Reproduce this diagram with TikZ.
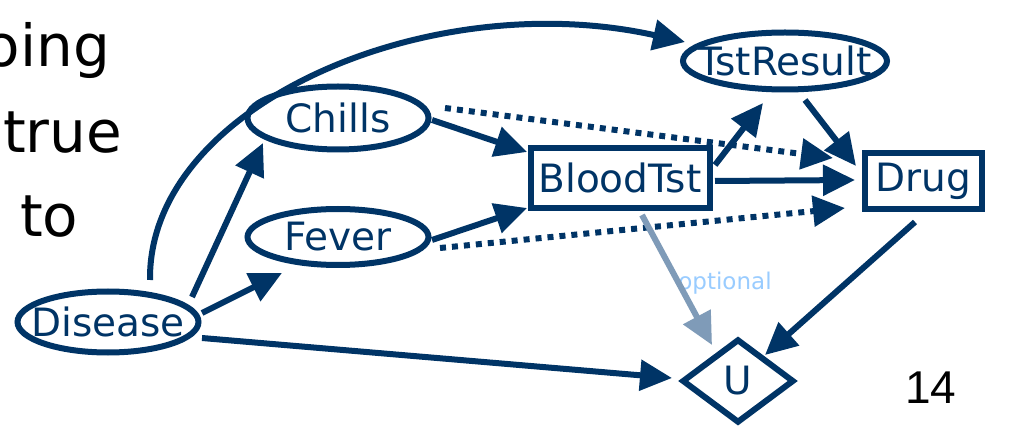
\documentclass[tikz,border=0pt]{standalone}
\usepackage{fontspec}
\setmainfont{DejaVu Sans}
\newfontfamily\numfont{Liberation Sans}
\usetikzlibrary{arrows.meta,shapes.geometric}
\definecolor{navy}{RGB}{0,52,102}
\definecolor{grayblue}{RGB}{127,155,184}
\definecolor{lightblue}{RGB}{153,204,255}
\begin{document}
\begin{tikzpicture}[x=1pt,y=-1pt,
  ell/.style={draw=navy,line width=6pt,ellipse,inner sep=0pt},
  box/.style={draw=navy,line width=6pt,rectangle,inner sep=0pt},
  dia/.style={draw=navy,line width=6pt,diamond,inner sep=0pt},
  lbl/.style={inner sep=0pt,text=navy,font=\fontsize{39}{39}\selectfont},
  arr/.style={draw=navy,line width=6pt,-{Triangle[length=32pt,width=30pt]}},
  dotarr/.style={arr,dash pattern=on 6pt off 6pt},
  grayarr/.style={draw=grayblue,line width=6pt,-{Triangle[length=32pt,width=30pt]}},
  bigtxt/.style={inner sep=0pt,font=\fontsize{58}{58}\selectfont,text=black}
]
\useasboundingbox (0,0) rectangle (1019,427);
\fill[white] (0,0) rectangle (1019,427);

% left text
\node[bigtxt,anchor=base east] (t1) at (110,67) {oing};
\node[bigtxt,anchor=base west] (t2) at (3,153) {true};
\node[bigtxt,anchor=base west] (t3) at (20,237) {to};

% nodes
\node[ell,minimum width=181pt,minimum height=61pt] (dis) at (108,322) {};
\node[ell,minimum width=181pt,minimum height=63pt] (chi) at (338,118) {};
\node[ell,minimum width=181pt,minimum height=56pt] (fev) at (338,237) {};
\node[box,minimum width=179pt,minimum height=60pt] (bt) at (620,178) {};
\node[ell,minimum width=204pt,minimum height=57pt] (tst) at (785,61) {};
\node[box,minimum width=117pt,minimum height=56pt] (drug) at (923,181) {};
\node[dia,minimum width=112pt,minimum height=84pt] (u) at (738,381) {};

\node[lbl] (disl) at (dis) {Disease};
\node[lbl] (chil) at (chi) {Chills};
\node[lbl] (fevl) at (fev) {Fever};
\node[lbl] (btl) at (bt) {BloodTst};
\node[lbl] (tstl) at (tst) {TstResult};
\node[lbl] (drugl) at (drug) {Drug};
\node[lbl] (ul) at (u) {U};

\node[inner sep=0pt,anchor=base,text=lightblue,font=\fontsize{23}{23}\selectfont] (opt) at (725,290) {optional};
\node[inner sep=0pt,anchor=base west,font=\numfont\fontsize{46}{46}\selectfont] (num) at (905,403) {14};

% connectors
\draw[arr] ([shift={(84,-25)}]dis.center) -- ([shift={(-75,25)}]chi.center);
\draw[arr] ([shift={(94,-9)}]dis.center) -- ([shift={(-56,36)}]fev.center);
\draw[arr] ([shift={(94,16)}]dis.center) -- ([shift={(-66,-3)}]u.center);
\draw[arr] ([shift={(42,-42)}]dis.center) .. controls (148,105) and (430,-15) .. ([shift={(-100,-19)}]tst.center);
\draw[arr] ([shift={(94,2)}]chi.center) -- ([shift={(-93,-26)}]bt.center);
\draw[dotarr] ([shift={(107,-10)}]chi.center) -- ([shift={(-90,-23)}]drug.center);
\draw[arr] ([shift={(94,3)}]fev.center) -- ([shift={(-93,30)}]bt.center);
\draw[dotarr] ([shift={(102,11)}]fev.center) -- ([shift={(-78,27)}]drug.center);
\draw[arr] ([shift={(95,-13)}]bt.center) -- ([shift={(-22,42)}]tst.center);
\draw[arr] ([shift={(95,3)}]bt.center) -- ([shift={(-68,-1)}]drug.center);
\draw[arr] ([shift={(20,39)}]tst.center) -- ([shift={(-67,-15)}]drug.center);
\draw[arr] ([shift={(-8,41)}]drug.center) -- ([shift={(27,-26)}]u.center);
\draw[grayarr] ([shift={(22,37)}]bt.center) -- ([shift={(-26,-36)}]u.center);
\end{tikzpicture}
\end{document}
